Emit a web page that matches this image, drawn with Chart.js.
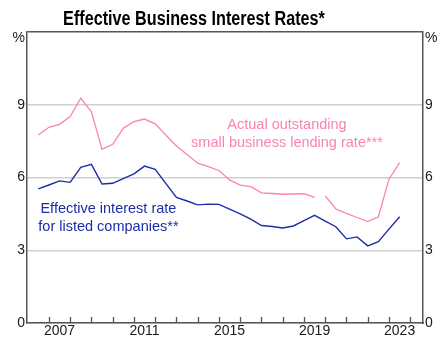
<!DOCTYPE html>
<html>
<head>
<meta charset="utf-8">
<script src="https://cdn.jsdelivr.net/npm/chart.js@4.4.1/dist/chart.umd.min.js"></script>
<style>
  body { margin: 0; background: #fff; }
  #wrap { width: 440px; height: 348px; }
</style>
</head>
<body>
<div id="wrap"><canvas id="chart"></canvas></div>
<script>
// half-yearly observations (decimal years); 2019.75 marks the break in the small business series
const dates = [2006.5, 2007, 2007.5, 2008, 2008.5, 2009, 2009.5, 2010, 2010.5, 2011, 2011.5, 2012,
    2012.5, 2013, 2013.5, 2014, 2014.5, 2015, 2015.5, 2016, 2016.5, 2017, 2017.5, 2018, 2018.5, 2019,
    2019.5, 2019.75, 2020, 2020.5, 2021, 2021.5, 2022, 2022.5, 2023, 2023.5];

const listedRate = [5.53, 5.69, 5.86, 5.80, 6.42, 6.54, 5.73, 5.76, 5.95, 6.15, 6.47, 6.34,
    5.76, 5.18, 5.03, 4.87, 4.90, 4.89, 4.70, 4.50, 4.28, 4.02, 3.98, 3.92, 4.00, 4.22,
    4.44, null, 4.20, 3.97, 3.47, 3.55, 3.18, 3.35, 3.87, 4.38];

const smallBizRate = [7.75, 8.07, 8.19, 8.51, 9.27, 8.71, 7.16, 7.37, 8.03, 8.30, 8.41, 8.21,
    7.75, 7.30, 6.95, 6.59, 6.45, 6.29, 5.90, 5.69, 5.62, 5.37, 5.34, 5.31, 5.32, 5.33,
    5.18, null, 5.24, 4.70, 4.52, 4.35, 4.18, 4.38, 5.93, 6.61];

const yearLabels = [2007, 2011, 2015, 2019, 2023];
const yTicks = [0, 3, 6, 9, 12];
const chartTitle = 'Effective Business Interest Rates*';

const pink = '#fb82b6';
const blue = '#1c2ea6';
const axisGrey = '#555555';
const font = '"Liberation Sans", Arial, sans-serif';

function toPoints(vals) {
    return dates.map((d, i) => ({ x: d, y: vals[i] }));
}

// title (narrow bold), year tick marks, % unit labels and the series notes
const extras = {
    id: 'extras',
    afterDraw(chart) {
        const ctx = chart.ctx;
        const x = chart.scales.x;
        const y = chart.scales.y;
        const area = chart.chartArea;
        ctx.save();

        // the original uses a narrow bold face, so squeeze a normal one
        ctx.save();
        ctx.fillStyle = '#000';
        ctx.font = 'bold 19.5px ' + font;
        ctx.textAlign = 'center';
        ctx.textBaseline = 'alphabetic';
        ctx.translate(194, 25);
        ctx.scale(0.83, 1);
        ctx.fillText(chartTitle, 0, 0);
        ctx.restore();

        ctx.strokeStyle = axisGrey;
        ctx.lineWidth = 1.3;
        for (let yr = 2007; yr <= 2024; yr++) {
            let px = Math.round(x.getPixelForValue(yr)) + 0.5;
            ctx.beginPath();
            ctx.moveTo(px, area.bottom);
            ctx.lineTo(px, area.bottom - 6);
            ctx.stroke();
        }

        ctx.fillStyle = '#1a1a1a';
        ctx.font = '14px ' + font;
        ctx.textBaseline = 'middle';
        ctx.textAlign = 'right';
        ctx.fillText('%', area.left - 2, area.top + 6);
        ctx.textAlign = 'left';
        ctx.fillText('%', area.right + 2, area.top + 6);

        const notes = [
            { lines: ['Actual outstanding', 'small business lending rate***'], at: 2018.2, vals: [8.16, 7.42], color: pink },
            { lines: ['Effective interest rate', 'for listed companies**'], at: 2009.8, vals: [4.70, 3.96], color: blue }
        ];
        ctx.font = '14.5px ' + font;
        ctx.textAlign = 'center';
        notes.forEach(n => {
            ctx.fillStyle = n.color;
            n.lines.forEach((t, i) => {
                ctx.fillText(t, x.getPixelForValue(n.at), y.getPixelForValue(n.vals[i]));
            });
        });
        ctx.restore();
    }
};

const ctx = document.getElementById('chart').getContext('2d');

const chart = new Chart(ctx, {
    type: 'line',
    data: {
        datasets: [
            { label: 'Actual outstanding small business lending rate', data: toPoints(smallBizRate),
              borderColor: pink, borderWidth: 1.3, pointRadius: 0, tension: 0, spanGaps: false },
            { label: 'Effective interest rate for listed companies', data: toPoints(listedRate),
              borderColor: blue, borderWidth: 1.4, pointRadius: 0, tension: 0, spanGaps: true }
        ]
    },
    options: {
        responsive: true,
        maintainAspectRatio: false,
        animation: false,
        layout: { padding: { top: 32 } },
        plugins: {
            legend: { display: false },
            tooltip: { enabled: false },
            title: { display: false }
        },
        scales: {
            x: {
                type: 'linear',
                min: 2005.97,
                max: 2024.6,
                afterBuildTicks: s => { s.ticks = yearLabels.map(v => ({ value: v + 0.5 })); },
                afterFit: s => { s.height = 25; },
                ticks: {
                    padding: 0,
                    maxRotation: 0,
                    color: '#1a1a1a',
                    font: { family: font, size: 14 },
                    callback: v => String(Math.floor(v))
                },
                grid: { display: false, drawTicks: false },
                border: { display: true, color: axisGrey, width: 1.5 }
            },
            y: {
                position: 'left',
                min: 0,
                max: 12,
                afterBuildTicks: s => { s.ticks = yTicks.map(v => ({ value: v })); },
                afterFit: s => { s.width = 27; },
                ticks: {
                    padding: 2,
                    color: '#1a1a1a',
                    font: { family: font, size: 14 },
                    callback: v => (v === 12 ? '' : v)
                },
                grid: {
                    drawTicks: false,
                    lineWidth: 1.5,
                    color: c => (c.tick && c.tick.value === 12 ? axisGrey : '#d0d0d0')
                },
                border: { display: true, color: axisGrey, width: 1.5 }
            },
            y2: {
                position: 'right',
                min: 0,
                max: 12,
                afterBuildTicks: s => { s.ticks = yTicks.map(v => ({ value: v })); },
                afterFit: s => { s.width = 17; },
                ticks: {
                    padding: 2,
                    color: '#1a1a1a',
                    font: { family: font, size: 14 },
                    callback: v => (v === 12 ? '' : v)
                },
                grid: { display: false, drawTicks: false },
                border: { display: true, color: axisGrey, width: 1.5 }
            }
        }
    },
    plugins: [extras]
});
</script>
</body>
</html>
